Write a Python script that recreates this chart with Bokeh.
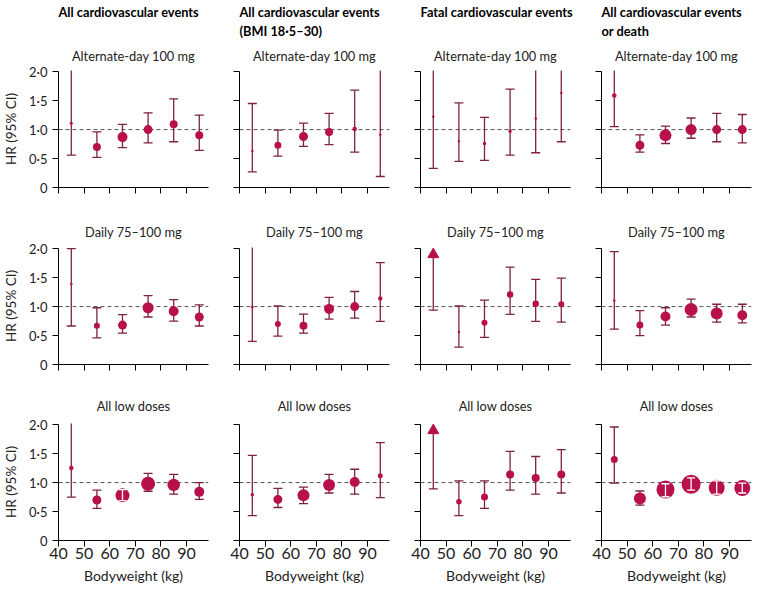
import numpy as np
from bokeh.plotting import figure
from bokeh.layouts import gridplot
from bokeh.models import Range1d, Span, Title, FixedTicker, CustomJSTickFormatter
from bokeh.embed import file_html
from bokeh.resources import INLINE

# ---------------- data ----------------
WEIGHTS = [45, 55, 65, 75, 85, 95]
X_TICKS = [40, 50, 60, 70, 80, 90]
Y_TICKS = [0, 0.5, 1.0, 1.5, 2.0]
Y_TICK_LABELS = ["0", "0·5", "1·0", "1·5", "2·0"]

HEADERS = [
    ["All cardiovascular events"],
    ["All cardiovascular events", "(BMI 18·5–30)"],
    ["Fatal cardiovascular events"],
    ["All cardiovascular events", "or death"],
]
SUBTITLES = ["Alternate-day 100 mg", "Daily 75–100 mg", "All low doses"]

# rows: alternate-day, daily, all low doses; None in HI = beyond axis; None in HR = off scale (arrow)
HR_ALL_CV = [[1.11, 0.70, 0.87, 1.00, 1.09, 0.90],
             [1.39, 0.67, 0.68, 0.98, 0.92, 0.82],
             [1.25, 0.70, 0.78, 0.98, 0.96, 0.84]]
LO_ALL_CV = [[0.56, 0.52, 0.69, 0.77, 0.79, 0.64],
             [0.665, 0.46, 0.54, 0.82, 0.75, 0.665],
             [0.75, 0.555, 0.69, 0.85, 0.80, 0.71]]
HI_ALL_CV = [[None, 0.96, 1.09, 1.29, 1.53, 1.25],
             [2.0, 0.98, 0.86, 1.19, 1.12, 1.03],
             [None, 0.87, 0.88, 1.16, 1.14, 1.00]]
W_ALL_CV = [[3, 8, 10, 9, 8, 8],
            [2.5, 6, 9, 11, 10, 9],
            [4.5, 9, 14, 14, 12.5, 10]]

HR_BMI = [[0.63, 0.73, 0.88, 0.96, 1.01, 0.91],
          [0.99, 0.70, 0.67, 0.96, 1.00, 1.14],
          [0.79, 0.71, 0.78, 0.96, 1.01, 1.12]]
LO_BMI = [[0.27, 0.54, 0.71, 0.74, 0.61, 0.19],
          [0.40, 0.49, 0.54, 0.785, 0.80, 0.745],
          [0.43, 0.57, 0.635, 0.82, 0.80, 0.74]]
HI_BMI = [[1.45, 0.99, 1.11, 1.28, 1.68, None],
          [None, 1.01, 0.87, 1.16, 1.26, 1.76],
          [1.47, 0.90, 0.92, 1.14, 1.23, 1.69]]
W_BMI = [[2.5, 7, 9, 8, 4.5, 2.5],
         [2.5, 6, 8, 10, 9, 4.5],
         [3.5, 9, 12, 12, 10, 5]]

HR_FATAL = [[1.22, 0.80, 0.76, 0.97, 1.19, 1.63],
            [None, 0.56, 0.72, 1.21, 1.05, 1.04],
            [None, 0.67, 0.75, 1.14, 1.08, 1.14]]
LO_FATAL = [[0.33, 0.45, 0.47, 0.56, 0.60, 0.79],
            [0.94, 0.30, 0.47, 0.865, 0.745, 0.73],
            [0.89, 0.43, 0.555, 0.87, 0.80, 0.82]]
HI_FATAL = [[None, 1.46, 1.21, 1.70, None, None],
            [None, 1.01, 1.11, 1.68, 1.47, 1.49],
            [None, 1.03, 1.03, 1.54, 1.45, 1.57]]
W_FATAL = [[2.5, 2.5, 3.5, 3.5, 2.5, 2.5],
           [0, 2.5, 6, 6.5, 6.5, 6],
           [0, 5.5, 7, 8, 8, 8]]

HR_DEATH = [[1.59, 0.73, 0.90, 1.00, 1.00, 1.00],
            [1.10, 0.68, 0.83, 0.95, 0.88, 0.85],
            [1.40, 0.725, 0.88, 0.97, 0.91, 0.905]]
LO_DEATH = [[1.05, 0.61, 0.76, 0.85, 0.79, 0.77],
            [0.61, 0.50, 0.68, 0.82, 0.73, 0.72],
            [0.99, 0.61, 0.755, 0.87, 0.80, 0.82]]
HI_DEATH = [[None, 0.91, 1.06, 1.20, 1.28, 1.26],
            [1.95, 0.93, 0.98, 1.13, 1.04, 1.04],
            [1.96, 0.855, 0.98, 1.08, 1.03, 0.99]]
W_DEATH = [[4.5, 9, 12, 11, 9, 9],
           [2.5, 7, 10, 13, 12, 10],
           [7, 12, 18, 19, 16, 16]]

HR = [HR_ALL_CV, HR_BMI, HR_FATAL, HR_DEATH]
LO = [LO_ALL_CV, LO_BMI, LO_FATAL, LO_DEATH]
HI = [HI_ALL_CV, HI_BMI, HI_FATAL, HI_DEATH]
W = [W_ALL_CV, W_BMI, W_FATAL, W_DEATH]

# ---------------- style ----------------
FONT = "Lato"
RED = "#B8104A"
MAROON = "#7D2145"
FRAME_W, FRAME_H = 150, 117
X0, X1 = 40, 98.6
Y0, Y1 = 0, 2.02
ARROW_GAP = 0.1
CAP = 9
TICK = 6

BORDER_TOP = [70, 40, 39]
BORDER_BOTTOM = [20, 20, 50]
SUB_STANDOFF = [13, 16, 20]
HEAD_FS = "12.8px"
SUB_FS = "12.8px"


def make_panel(col, row):
    hr, lo, hi, w = HR[col][row], LO[col][row], HI[col][row], W[col][row]
    p = figure(frame_width=FRAME_W, frame_height=FRAME_H,
               x_range=Range1d(X0, X1), y_range=Range1d(Y0, Y1),
               output_backend="svg", toolbar_location=None,
               min_border_left=55 if col == 0 else 20,
               min_border_right=11 if col < 3 else 4,
               min_border_top=BORDER_TOP[row], min_border_bottom=BORDER_BOTTOM[row],
               outline_line_color=None, background_fill_color="white",
               border_fill_color="white")
    p.xgrid.visible = False
    p.ygrid.visible = False

    # axes
    for ax in (p.xaxis[0], p.yaxis[0]):
        ax.axis_line_color = "black"
        ax.axis_line_width = 1
        ax.major_tick_line_color = "black"
        ax.major_tick_out = TICK
        ax.major_tick_in = 0
        ax.minor_tick_line_color = "black"
        ax.minor_tick_out = TICK
        ax.minor_tick_in = 0
        ax.major_label_text_font = FONT
        ax.axis_label_text_font = FONT
        ax.axis_label_text_font_style = "normal"
        ax.axis_label_text_color = "#222"
        ax.major_label_text_color = "#222"
    p.yaxis.bounds = (Y_TICKS[0], Y_TICKS[-1])
    if col == 0:
        p.yaxis.ticker = FixedTicker(ticks=Y_TICKS, minor_ticks=[])
        p.yaxis.formatter = CustomJSTickFormatter(args=dict(tvals=Y_TICKS, tlabels=Y_TICK_LABELS), code="""
            const i = tvals.findIndex(t => Math.abs(t - tick) < 1e-9);
            return i >= 0 ? tlabels[i] : "";
        """)
        p.yaxis.axis_label = "HR (95% CI)"
        p.yaxis.axis_label_text_font_size = "13.5px"
        p.yaxis.major_label_text_font_size = "13px"
        p.yaxis.major_label_standoff = 5
        p.yaxis.axis_label_standoff = 7
    else:
        # ticks only, no labels
        p.yaxis.ticker = FixedTicker(ticks=[], minor_ticks=Y_TICKS)
    if row == 2:
        p.xaxis.ticker = FixedTicker(ticks=X_TICKS, minor_ticks=[])
        p.xaxis.axis_label = "Bodyweight (kg)"
        p.xaxis.axis_label_text_font_size = "14px"
        p.xaxis.major_label_text_font_size = "16px"
        p.xaxis.major_label_standoff = 1
        p.xaxis.axis_label_standoff = 5
    else:
        p.xaxis.ticker = FixedTicker(ticks=[], minor_ticks=X_TICKS)

    # titles (added nearest-first)
    p.add_layout(Title(text=SUBTITLES[row], align="center", text_font=FONT,
                       text_font_size=SUB_FS, text_font_style="normal",
                       text_color="#222", standoff=SUB_STANDOFF[row]), "above")
    if row == 0:
        lines = HEADERS[col]
        second = lines[1] if len(lines) == 2 else " "
        p.add_layout(Title(text=second, align="left", text_font=FONT, text_font_size=HEAD_FS,
                           text_font_style="bold", text_color="black", standoff=2), "above")
        p.add_layout(Title(text=lines[0], align="left", text_font=FONT, text_font_size=HEAD_FS,
                           text_font_style="bold", text_color="black", standoff=0), "above")

    # reference line
    p.add_layout(Span(location=1.0, dimension="width", line_color="#555",
                      line_dash="4 3", line_width=1, level="underlay"))

    ppu = FRAME_H / (Y1 - Y0)
    seg_x, seg_lo, seg_hi = [], [], []
    cap_x, cap_y = [], []
    dot_x, dot_y, dot_s = [], [], []
    arr_x, arr_y = [], []
    wx, wlo, whi = [], [], []
    for x, h, l, u, s in zip(WEIGHTS, hr, lo, hi, w):
        if h is None:
            top = Y_TICKS[-1] - ARROW_GAP
            arr_x.append(x)
            arr_y.append(top)
        else:
            top = u if u is not None else Y1 + 0.1
            dot_x.append(x)
            dot_y.append(h)
            dot_s.append(s)
        inside = h is not None and u is not None and (u - l) * ppu < s - 1
        if inside:
            wx.append(x); wlo.append(l); whi.append(u)
            continue
        seg_x.append(x); seg_lo.append(l); seg_hi.append(top)
        cap_x.append(x); cap_y.append(l)
        if h is not None and u is not None:
            cap_x.append(x); cap_y.append(u)

    p.segment(x0=seg_x, y0=seg_lo, x1=seg_x, y1=seg_hi, line_color=MAROON, line_width=1.3)
    p.scatter(x=cap_x, y=cap_y, marker="dash", size=CAP, line_color=MAROON, line_width=1.3)
    p.scatter(x=dot_x, y=dot_y, size=dot_s, marker="circle", fill_color=RED, line_color=None)
    if arr_x:
        p.scatter(x=arr_x, y=arr_y, marker="triangle", size=11, fill_color=RED, line_color=RED)
    if wx:
        p.segment(x0=wx, y0=wlo, x1=wx, y1=whi, line_color="white", line_width=1.3)
        p.scatter(x=wx + wx, y=wlo + whi, marker="dash", size=CAP - 1, line_color="white", line_width=1.3)
    return p


grid = [[make_panel(c, r) for c in range(4)] for r in range(3)]
layout = gridplot(grid, toolbar_location=None)

open("out.html", "w").write(file_html(layout, INLINE))
